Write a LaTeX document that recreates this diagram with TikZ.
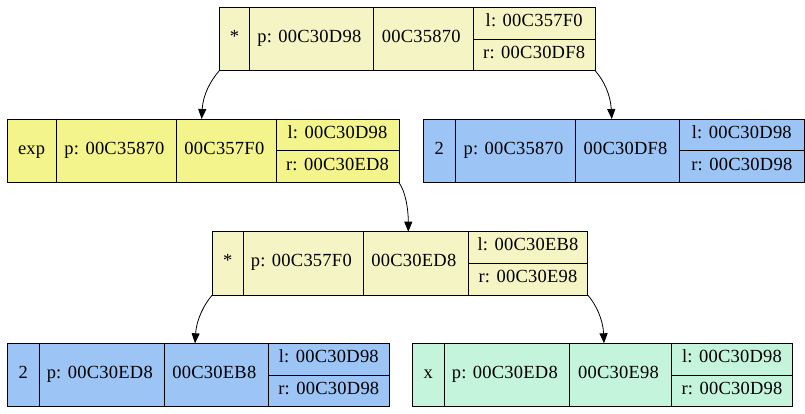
\documentclass[tikz,border=0pt]{standalone}
\usepackage{fontspec}
\setmainfont[LetterSpace=1.3]{Liberation Serif}
\usetikzlibrary{arrows.meta}
\definecolor{paleY}{HTML}{F4F4C4}
\definecolor{khakiY}{HTML}{F4F48C}
\definecolor{blueR}{HTML}{9CC4F4}
\definecolor{greenR}{HTML}{C4F4DC}
\tikzset{
  recbox/.style={draw, line width=0.8pt, inner sep=0pt, outer sep=0pt},
  divline/.style={line width=0.8pt},
  txt/.style={inner sep=0pt, text height=0.68em, text depth=0pt, font=\fontsize{18.5}{20}\selectfont},
  edge/.style={line width=0.8pt, -{Triangle[length=10pt,width=8pt]}}
}
% #1 name #2 colour #3 x0 #4 x1 #5 x2 #6 x3 #7 x4 #8 ytop #9 ybot
\newcommand\rec[9]{%
  \node[recbox, fill=#2, minimum width={(#7-#3)*1pt}, minimum height={(#9-#8)*1pt}] (#1) at ({(#3+#7)/2},{(#8+#9)/2}) {};
  \draw[divline] (#4,#8) -- (#4,#9);
  \draw[divline] (#5,#8) -- (#5,#9);
  \draw[divline] (#6,#8) -- (#6,#9);
  \draw[divline] (#6,{(#8+#9)/2}) -- (#7,{(#8+#9)/2});
  \coordinate (#1-c1) at ({(#3+#4)/2},{(#8+#9)/2});
  \coordinate (#1-c2) at ({(#4+#5)/2-2},{(#8+#9)/2});
  \coordinate (#1-c3) at ({(#5+#6)/2-2},{(#8+#9)/2});
  \coordinate (#1-c4) at ({(#6+#7)/2},{(3*#8+#9)/4});
  \coordinate (#1-c5) at ({(#6+#7)/2},{(#8+3*#9)/4});
}
\newcommand\rectxt[6]{%
  \node[txt] (#1-t1) at (#1-c1) {#2};
  \node[txt] (#1-t2) at (#1-c2) {#3};
  \node[txt] (#1-t3) at (#1-c3) {#4};
  \node[txt] (#1-t4) at (#1-c4) {#5};
  \node[txt] (#1-t5) at (#1-c5) {#6};
}
\begin{document}
\begin{tikzpicture}[x=1pt,y=-1pt]
\useasboundingbox[fill=white] (0,0) rectangle (805,413);
\rec{root}{paleY}{219.5}{249.3}{373.3}{473.3}{595}{7.5}{70.5}
\rectxt{root}{*}{p: 00C30D98}{00C35870}{l: 00C357F0}{r: 00C30DF8}
\rec{expn}{khakiY}{7.3}{56}{176.7}{276}{399}{119}{182.7}
\rectxt{expn}{exp}{p: 00C35870}{00C357F0}{l: 00C30D98}{r: 00C30ED8}
\rec{twoa}{blueR}{423.3}{455.3}{575.7}{679.3}{804.3}{119}{182.7}
\rectxt{twoa}{2}{p: 00C35870}{00C30DF8}{l: 00C30D98}{r: 00C30D98}
\rec{mul}{paleY}{212.3}{243.3}{363.3}{468.3}{587.7}{231.7}{295}
\rectxt{mul}{*}{p: 00C357F0}{00C30ED8}{l: 00C30EB8}{r: 00C30E98}
\rec{twob}{blueR}{7.3}{39.3}{164.3}{268.3}{389.3}{343.3}{406.7}
\rectxt{twob}{2}{p: 00C30ED8}{00C30EB8}{l: 00C30D98}{r: 00C30D98}
\rec{xn}{greenR}{412.3}{444.3}{569.3}{671.7}{792.3}{343.3}{406.7}
\rectxt{xn}{x}{p: 00C30ED8}{00C30E98}{l: 00C30D98}{r: 00C30D98}
\draw[edge] (root.south west) .. controls +(-9,10) and +(1.3,-24) .. ([xshift=-1.5pt]expn.north);
\draw[edge] (root.south east) .. controls +(9,10) and +(-1.3,-24) .. ([xshift=-2pt]twoa.north);
\draw[edge] (expn.south east) .. controls +(6,8) and +(0,-24) .. ([xshift=8.3pt]mul.north);
\draw[edge] (mul.south west) .. controls +(-8,9) and +(1.5,-24) .. ([xshift=-3.3pt]twob.north);
\draw[edge] (mul.south east) .. controls +(8,9) and +(-1,-24) .. ([xshift=1.7pt]xn.north);
\end{tikzpicture}
\end{document}
